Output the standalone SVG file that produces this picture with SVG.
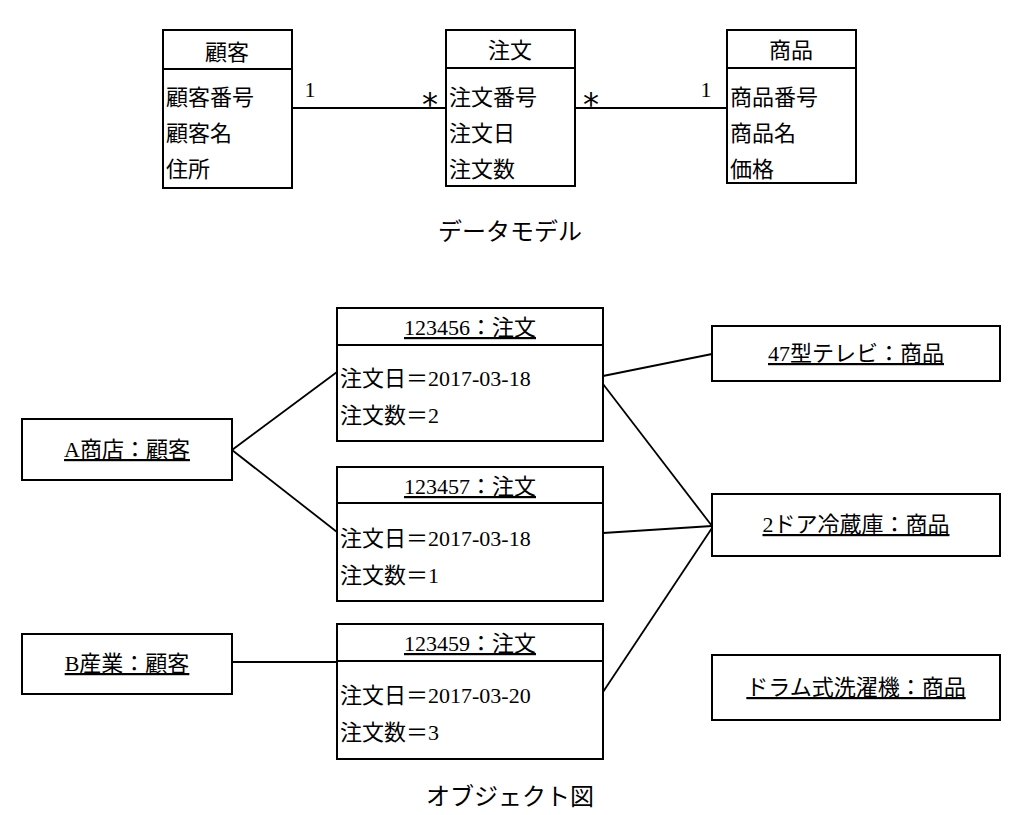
<svg xmlns="http://www.w3.org/2000/svg" width="1015" height="815" viewBox="0 0 1015 815">
<style>
rect{fill:#fff;stroke:#000;stroke-width:2}
line,.c line{stroke:#000;stroke-width:1.8}
text{font-family:"Liberation Serif","Noto Sans CJK JP",serif;font-size:22px;fill:#000}
.m{text-anchor:middle}
.u{text-decoration:underline}
.s{font-size:32px;font-family:"DejaVu Sans",sans-serif}
</style>
<rect width="1015" height="815" style="fill:#fff;stroke:none"/>
<g id="connectors" class="c">
<line x1="292" y1="108" x2="446" y2="108"/>
<line x1="575" y1="108" x2="727" y2="108"/>
<line x1="232" y1="450" x2="337" y2="372"/>
<line x1="232" y1="450" x2="337" y2="532"/>
<line x1="232" y1="662" x2="337" y2="662"/>
<line x1="603" y1="376" x2="712" y2="354"/>
<line x1="603" y1="384" x2="712" y2="526"/>
<line x1="603" y1="533" x2="712" y2="526"/>
<line x1="603" y1="692" x2="712" y2="528"/>
</g>
<g id="labels">
<text x="310" y="97" class="m">1</text>
<text x="430" y="115" class="m s">*</text>
<text x="591" y="115" class="m s">*</text>
<text x="706" y="97" class="m">1</text>
<text x="510" y="240" class="m" style="font-size:24px">データモデル</text>
<text x="510" y="805" class="m" style="font-size:24px">オブジェクト図</text>
</g>
<g id="kokyaku"><rect x="163" y="30" width="129" height="158"/><line x1="163" y1="69" x2="292" y2="69"/>
<text x="227" y="60" class="m">顧客</text><text x="166" y="105">顧客番号</text><text x="166" y="141">顧客名</text><text x="166" y="177">住所</text></g>
<g id="chumon"><rect x="446" y="30" width="129" height="156"/><line x1="446" y1="68" x2="575" y2="68"/>
<text x="510" y="58" class="m">注文</text><text x="449" y="105">注文番号</text><text x="449" y="141">注文日</text><text x="449" y="177">注文数</text></g>
<g id="shohin"><rect x="727" y="30" width="129" height="153"/><line x1="727" y1="68" x2="856" y2="68"/>
<text x="791" y="58" class="m">商品</text><text x="730" y="105">商品番号</text><text x="730" y="141">商品名</text><text x="730" y="177">価格</text></g>
<g id="o123456"><rect x="337" y="308" width="266" height="133"/><line x1="337" y1="345" x2="603" y2="345"/>
<text x="470" y="335" class="m u">123456：注文</text><text x="340" y="386">注文日＝2017-03-18</text><text x="340" y="423">注文数＝2</text></g>
<g id="o123457"><rect x="337" y="467" width="266" height="134"/><line x1="337" y1="503" x2="603" y2="503"/>
<text x="470" y="494" class="m u">123457：注文</text><text x="340" y="546">注文日＝2017-03-18</text><text x="340" y="583">注文数＝1</text></g>
<g id="o123459"><rect x="337" y="624" width="266" height="135"/><line x1="337" y1="661" x2="603" y2="661"/>
<text x="470" y="651" class="m u">123459：注文</text><text x="340" y="703">注文日＝2017-03-20</text><text x="340" y="740">注文数＝3</text></g>
<g id="a"><rect x="22" y="419" width="210" height="61"/><text x="127" y="457" class="m u">A商店：顧客</text></g>
<g id="b"><rect x="22" y="634" width="210" height="60"/><text x="127" y="671" class="m u">B産業：顧客</text></g>
<g id="tv"><rect x="712" y="326" width="288" height="55"/><text x="856" y="361" class="m u">47型テレビ：商品</text></g>
<g id="fridge"><rect x="712" y="494" width="288" height="62"/><text x="856" y="532" class="m u">2ドア冷蔵庫：商品</text></g>
<g id="washer"><rect x="712" y="655" width="288" height="65"/><text x="856" y="695" class="m u">ドラム式洗濯機：商品</text></g>
</svg>
